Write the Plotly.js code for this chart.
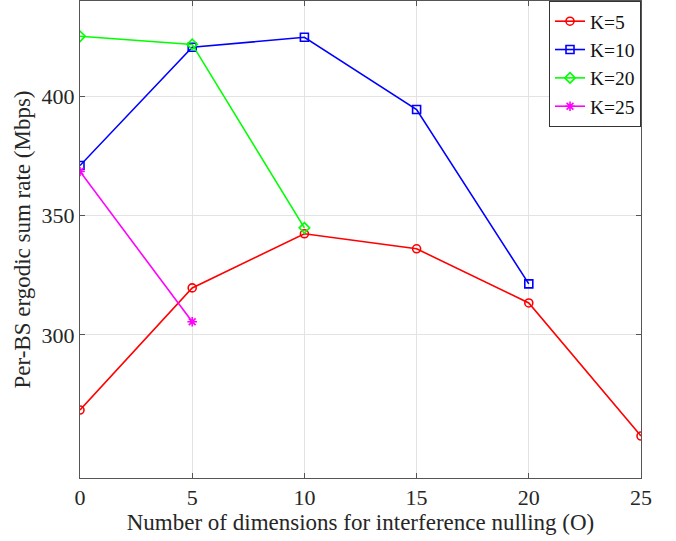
<!DOCTYPE html>
<html><head><meta charset="utf-8">
<script src="https://cdn.plot.ly/plotly-3.0.1.min.js"></script>
<style>html,body{margin:0;padding:0;background:#fff}#chart{width:676px;height:541px}</style>
</head><body><div id="chart"></div>
<script>
const xK5 = [0, 5, 10, 15, 20, 25];
const yK5 = [268.5, 319.7, 342.4, 336.1, 313.4, 257.6];
const xK10 = [0, 5, 10, 15, 20];
const yK10 = [371, 420.6, 424.8, 394.5, 321.4];
const xK20 = [0, 5, 10];
const yK20 = [425.2, 421.8, 344.9];
const xK25 = [0, 5];
const yK25 = [368.5, 305.5];
const seriesNames = ['K=5', 'K=10', 'K=20', 'K=25'];
const xTicks = [0, 5, 10, 15, 20, 25];
const yTicks = [300, 350, 400];

const font = 'Liberation Serif, Times New Roman, serif';
function tr(x, y, name, color, symbol) {
  return {x: x, y: y, name: name, type: 'scatter', mode: 'lines+markers',
    line: {color: color, width: 1.6},
    marker: {symbol: symbol, size: 8, color: color, line: {color: color, width: 1.6}}};
}
const data = [
  tr(xK5, yK5, seriesNames[0], '#ff0000', 'circle-open'),
  tr(xK10, yK10, seriesNames[1], '#0000ff', 'square-open'),
  tr(xK20, yK20, seriesNames[2], '#00ff00', 'diamond-open'),
  tr(xK25, yK25, seriesNames[3], '#ff00ff', 'asterisk-open')
];
const axisCommon = {
  showline: true, linecolor: '#555', linewidth: 1, mirror: 'ticks',
  ticks: 'inside', ticklen: 5, tickcolor: '#555',
  showgrid: true, gridcolor: '#e3e3e3', gridwidth: 1, zeroline: false,
  tickfont: {family: font, size: 22, color: '#262626'}
};
const layout = {
  width: 676, height: 541,
  margin: {l: 80, r: 35, t: 1, b: 63},
  paper_bgcolor: '#fff', plot_bgcolor: '#fff',
  showlegend: true,
  legend: {x: 1, xanchor: 'right', y: 1, yanchor: 'top',
    bordercolor: '#333', borderwidth: 1, bgcolor: '#fff',
    font: {family: font, size: 19.5, color: '#111'},
    tracegroupgap: 0, itemwidth: 30},
  xaxis: Object.assign({}, axisCommon, {
    range: [0, 25], tickvals: xTicks,
    title: {text: 'Number of dimensions for interference nulling (O)', font: {family: font, size: 23, color: '#262626'}, standoff: 2}
  }),
  yaxis: Object.assign({}, axisCommon, {
    range: [240, 440], tickvals: yTicks,
    title: {text: 'Per-BS ergodic sum rate (Mbps)', font: {family: font, size: 23, color: '#262626'}, standoff: 4}
  })
};
Plotly.newPlot('chart', data, layout, {displayModeBar: false});
</script></body></html>
